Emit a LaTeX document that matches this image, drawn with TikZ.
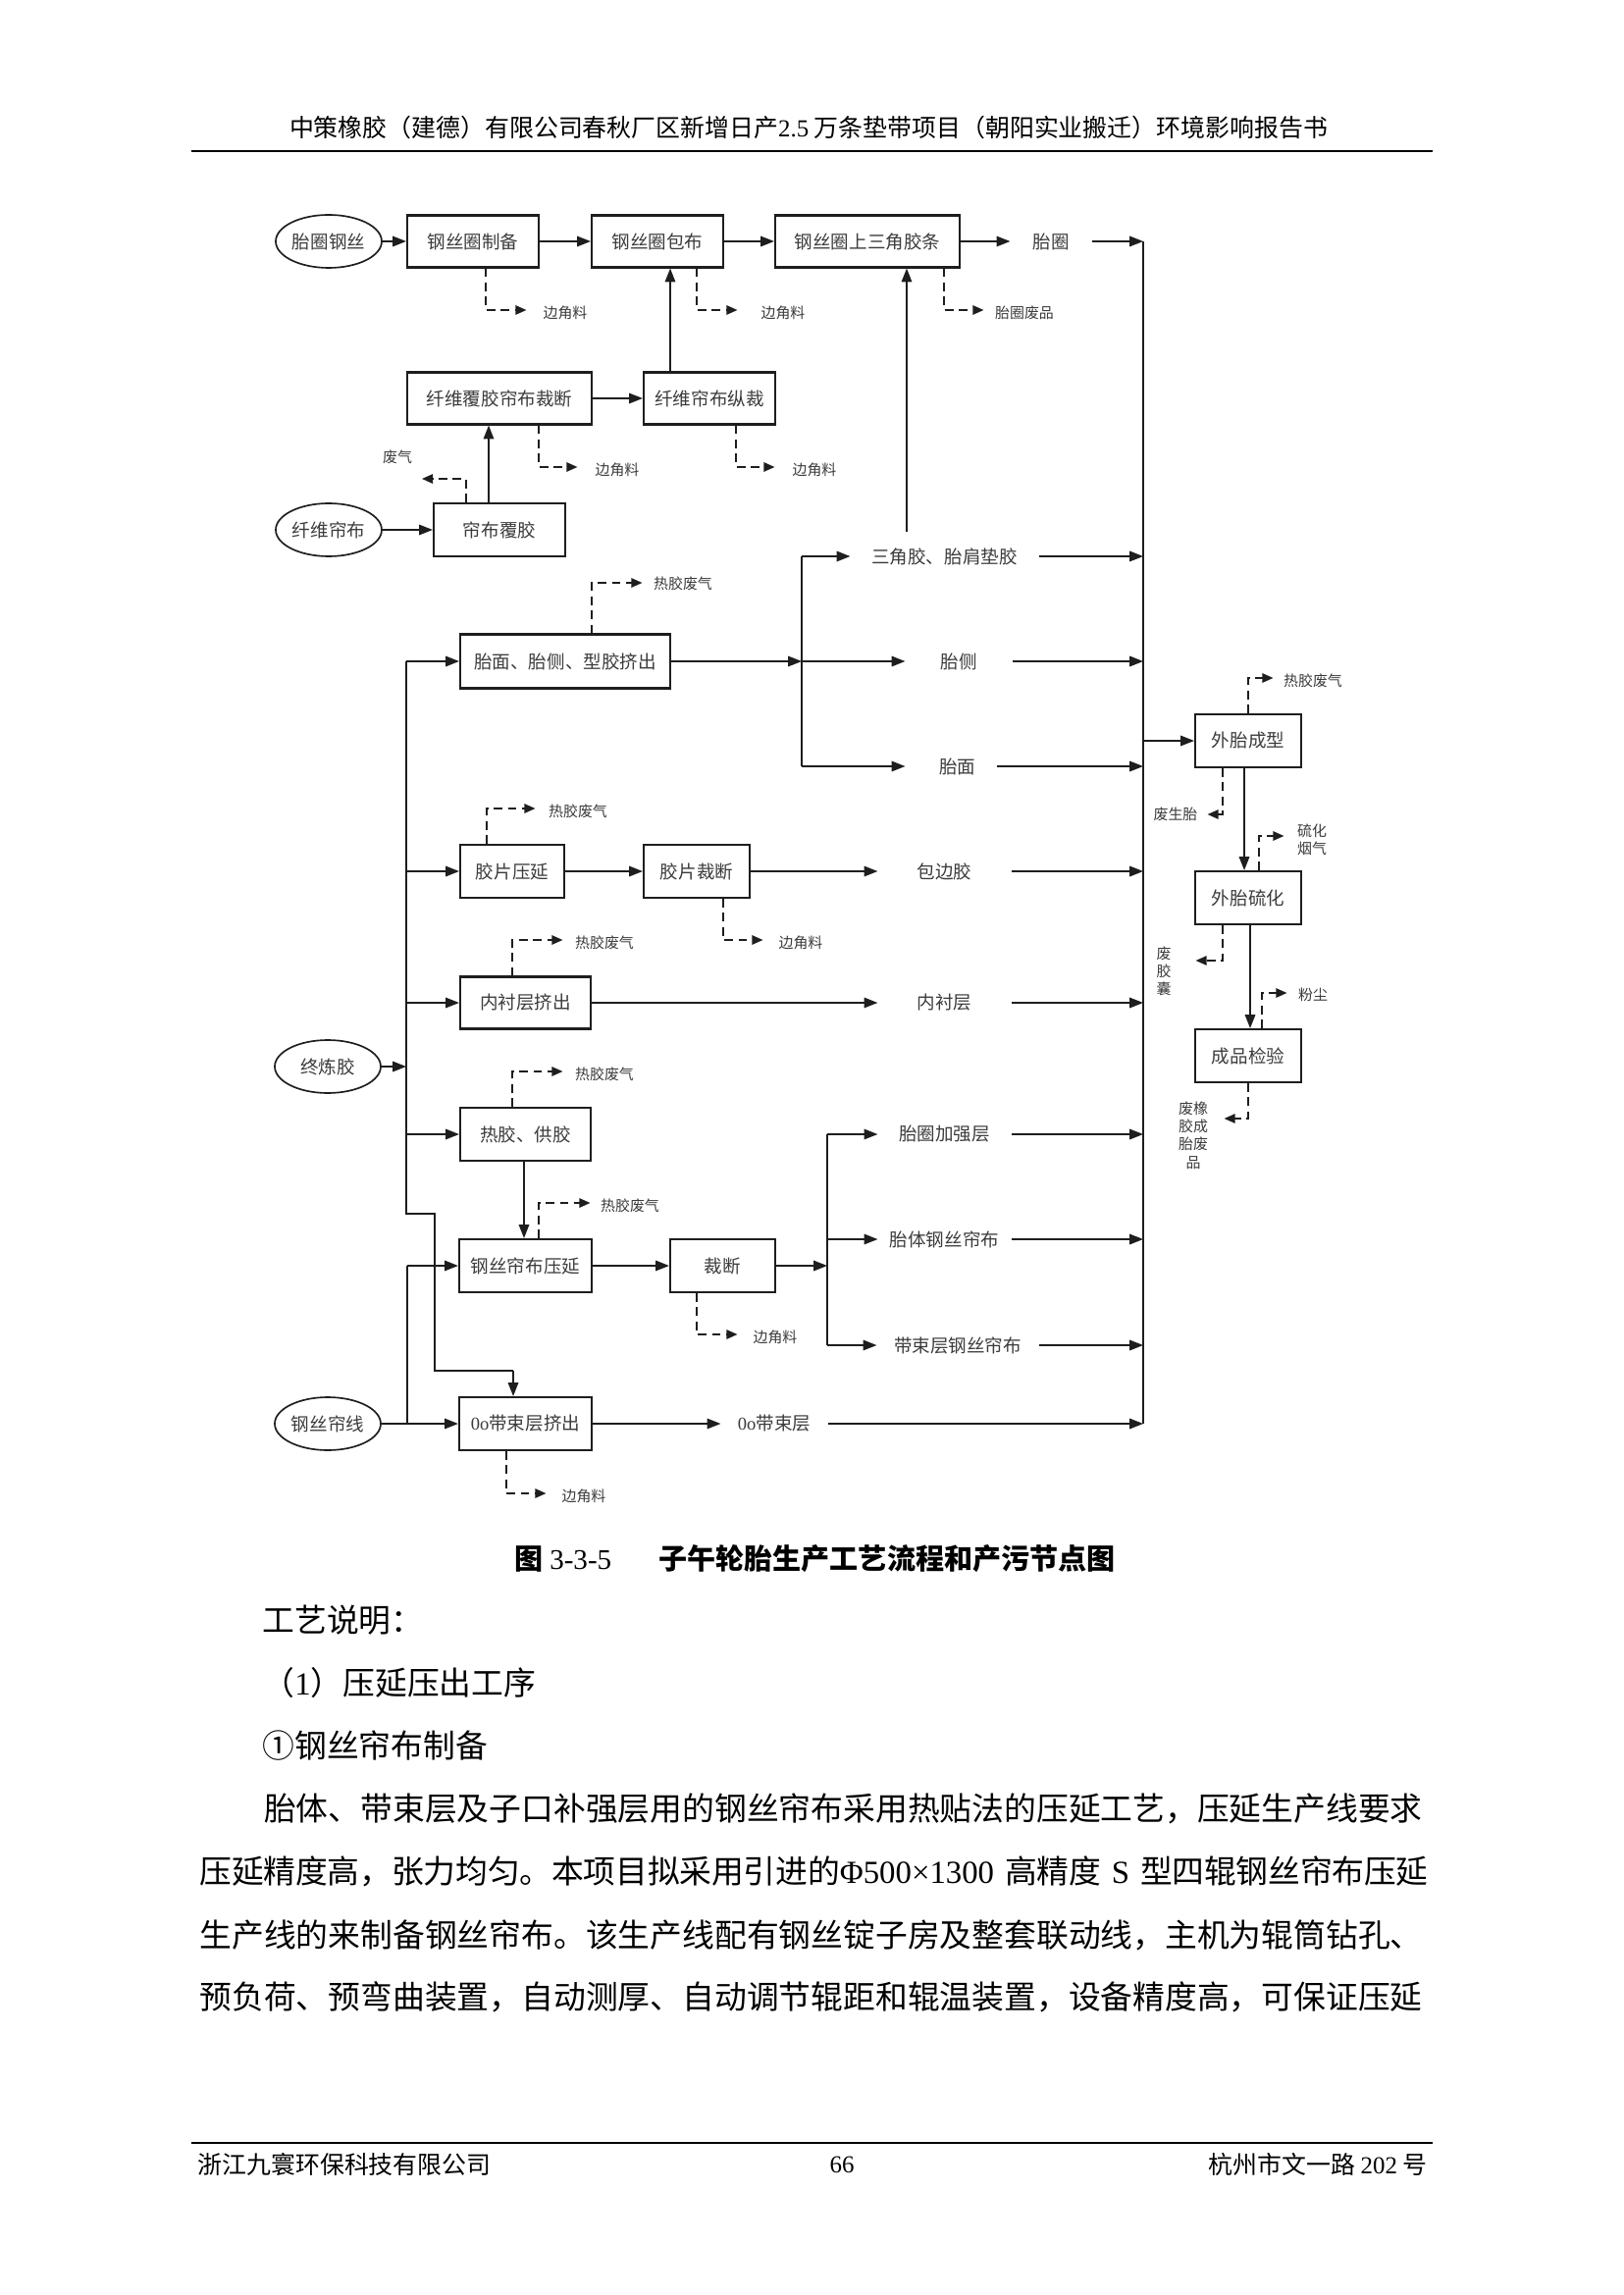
\documentclass[tikz,border=0pt]{standalone}
\usepackage{fontspec}
\setmainfont{Noto Sans CJK SC}
\newfontfamily\tnr{Liberation Serif}
\usetikzlibrary{arrows.meta,shapes.geometric}
\XeTeXlinebreaklocale "zh"
\XeTeXlinebreakskip=0pt plus 2pt minus 1pt
\definecolor{lncol}{HTML}{1E1E1E}
\definecolor{txtcol}{HTML}{3C3C3C}
\newcommand\fsBox{\fontsize{6.7pt}{8pt}\selectfont}
\newcommand\fsSm{\fontsize{5.4pt}{6.6pt}\selectfont}
\newcommand\fsBody{\fontsize{11.85pt}{14pt}\selectfont}
\newcommand\fsHead{\fontsize{9pt}{10pt}\selectfont}
\newcommand\fsCap{\fontsize{10.5pt}{12pt}\selectfont\bfseries}
\begin{document}
\begin{tikzpicture}[x=0.127mm,y=-0.127mm,
  every node/.style={inner sep=0pt,text=txtcol},
  bx/.style 2 args={draw=lncol,line width=0.75pt,minimum width=#1*0.127mm,minimum height=#2*0.127mm,font=\fsBox},
  el/.style={ellipse,draw=lncol,line width=0.6pt,minimum width=108*0.127mm,minimum height=54*0.127mm,font=\fsBox},
  lbl/.style={font=\fsBox,minimum width=#1*0.127mm},
  sml/.style={font=\fsSm,minimum width=#1*0.127mm,align=center},
  plain/.style={draw=lncol,line width=0.55pt},
  arr/.style={draw=lncol,line width=0.55pt,-{Triangle[length=5pt,width=3.8pt]}},
  darr/.style={draw=lncol,line width=0.55pt,dash pattern=on 3.2pt off 2pt,-{Triangle[length=4pt,width=3.4pt]}},
  body/.style={anchor=west,font=\fsBody,text=black},
  foot/.style={font=\fsHead,text=black}
]
\fill[white] (0,0) rectangle (1654,2339);
\useasboundingbox (0,0) rectangle (1654,2339);

% ---------- header ----------
\node[foot] (hdr) at (824,130) {中策橡胶（建德）有限公司春秋厂区新增日产{\tnr 2.5} 万条垫带项目（朝阳实业搬迁）环境影响报告书};
\draw[line width=1pt,black] (195,154) -- (1460,154);

% ---------- bus coordinates ----------
\coordinate (bA) at (1165,246);
\coordinate (bB) at (1165,567);
\coordinate (bC) at (1165,674);
\coordinate (bD) at (1165,781);
\coordinate (bE) at (1165,888);
\coordinate (bF) at (1165,1022);
\coordinate (bG) at (1165,1156);
\coordinate (bH) at (1165,1263);
\coordinate (bI) at (1165,1371);
\coordinate (bJ) at (1165,1451);
\coordinate (bK) at (1165,755);

% ---------- top block ----------
\node[el] (E1) at (335,246) {胎圈钢丝};
\node[bx={134}{53}] (B1) at (482,246) {钢丝圈制备};
\node[bx={134}{53}] (B2) at (670,246) {钢丝圈包布};
\node[bx={188}{53}] (B3) at (884,246) {钢丝圈上三角胶条};
\node[lbl=82] (T1) at (1071,246) {胎圈};
\draw[arr] (E1) -- (B1);
\draw[arr] (B1) -- (B2);
\draw[arr] (B2) -- (B3);
\draw[arr] (B3) -- (T1);
\draw[arr] (T1) -- (bA);

\node[bx={188}{53}] (B4) at (509,406) {纤维覆胶帘布裁断};
\node[bx={134}{53}] (B5) at (723,406) {纤维帘布纵裁};
\node[bx={134}{54}] (B6) at (509,540) {帘布覆胶};
\node[el] (E2) at (335,540) {纤维帘布};
\draw[arr] (B4) -- (B5);
\coordinate (a1) at (683,330);
\draw[arr] (B5.north -| a1) -- (B2.south -| a1);
\draw[arr] (E2) -- (B6);
\coordinate (a2) at (498,480);
\draw[arr] (B6.north -| a2) -- (B4.south -| a2);

% dashed outputs, top block
\node[sml=78] (L1) at (576,319) {边角料};
\coordinate (d1) at (495,316);
\draw[darr] (B1.south -| d1) -- (d1) -- (d1 -| L1.west);
\node[sml=92] (L2) at (798,319) {边角料};
\coordinate (d2) at (710,316);
\draw[darr] (B2.south -| d2) -- (d2) -- (d2 -| L2.west);
\node[sml=82] (L3) at (1044,319) {胎圈废品};
\coordinate (d3) at (962,316);
\draw[darr] (B3.south -| d3) -- (d3) -- (d3 -| L3.west);
\node[sml=80] (L4) at (629,479) {边角料};
\coordinate (d4) at (549,476);
\draw[darr] (B4.south -| d4) -- (d4) -- (d4 -| L4.west);
\node[sml=80] (L5) at (830,479) {边角料};
\coordinate (d5) at (750,476);
\draw[darr] (B5.south -| d5) -- (d5) -- (d5 -| L5.west);
\node[sml=40] (L6) at (405,466) {废气};
\coordinate (d6) at (475,488);
\coordinate (e6) at (430,488);
\draw[darr] (B6.north -| d6) -- (d6) -- (e6);

% ---------- middle block ----------
\node[el] (E3) at (334,1087) {终炼胶};
\coordinate (tk1) at (414,674);
\coordinate (tk2) at (414,1237);
\coordinate (tk3) at (443,1237);
\coordinate (tk4) at (443,1397);
\coordinate (tk5) at (523,1397);
\coordinate (tb3) at (414,1087);
\coordinate (tb8) at (414,888);
\coordinate (tb10) at (414,1022);
\coordinate (tb11) at (414,1156);
\draw[plain] (tk1) -- (tk2) -- (tk3) -- (tk4) -- (tk5);
\draw[arr] (E3) -- (tb3);

\node[bx={214}{55}] (B7) at (576,674) {胎面、胎侧、型胶挤出};
\draw[arr] (tk1) -- (B7.west |- tk1);
\coordinate (s1) at (817,674);
\coordinate (s1a) at (817,567);
\coordinate (s1c) at (817,781);
\draw[arr] (B7) -- (s1);
\draw[plain] (s1a) -- (s1c);
\node[lbl=191] (Ta) at (962.5,567) {三角胶、胎肩垫胶};
\node[lbl=108] (Tb) at (977,674) {胎侧};
\node[lbl=92] (Tc) at (969,781) {\hspace*{1.7mm}胎面};
\draw[arr] (s1a) -- (Ta);
\draw[arr] (s1) -- (Tb);
\draw[arr] (s1c) -- (Tc);
\draw[arr] (Ta) -- (bB);
\draw[arr] (Tb) -- (bC);
\draw[arr] (Tc) -- (bD);
\coordinate (up1) at (924,542);
\draw[arr] (up1) -- (B3.south -| up1);
\node[sml=82] (L7) at (696,595) {热胶废气};
\coordinate (d7) at (603,594);
\draw[darr] (B7.north -| d7) -- (d7) -- (d7 -| L7.west);

\node[bx={106}{54}] (B8) at (522,888) {胶片压延};
\node[bx={108}{54}] (B9) at (710,888) {胶片裁断};
\node[lbl=135] (Td) at (962.5,888) {包边胶};
\draw[arr] (tb8) -- (B8);
\draw[arr] (B8) -- (B9);
\draw[arr] (B9) -- (Td);
\draw[arr] (Td) -- (bE);
\node[sml=86] (L8) at (589,827) {热胶废气};
\coordinate (d8) at (496,824);
\draw[darr] (B8.north -| d8) -- (d8) -- (d8 -| L8.west);
\node[sml=76] (L9) at (816,961) {边角料};
\coordinate (d9) at (737,958);
\draw[darr] (B9.south -| d9) -- (d9) -- (d9 -| L9.west);

\node[bx={133}{53}] (B10) at (535.5,1022) {内衬层挤出};
\node[lbl=135] (Te) at (962.5,1022) {内衬层};
\draw[arr] (tb10) -- (B10);
\draw[arr] (B10) -- (Te);
\draw[arr] (Te) -- (bF);
\node[sml=84] (L10) at (616,961) {热胶废气};
\coordinate (d10) at (522,958);
\draw[darr] (B10.north -| d10) -- (d10) -- (d10 -| L10.west);

\node[bx={133}{54}] (B11) at (535.5,1156) {热胶、供胶};
\draw[arr] (tb11) -- (B11);
\node[sml=84] (L11) at (616,1095) {热胶废气};
\coordinate (d11) at (522,1092);
\draw[darr] (B11.north -| d11) -- (d11) -- (d11 -| L11.west);

\node[bx={135}{54}] (B12) at (535.5,1290) {钢丝帘布压延};
\node[bx={107}{54}] (B13) at (736.5,1290) {裁断};
\coordinate (v2) at (534,1220);
\draw[arr] (B11.south -| v2) -- (B12.north -| v2);
\draw[arr] (B12) -- (B13);
\node[sml=80] (L12) at (642,1229) {热胶废气};
\coordinate (d12) at (549,1226);
\draw[darr] (B12.north -| d12) -- (d12) -- (d12 -| L12.west);
\node[sml=76] (L13) at (790,1363) {边角料};
\coordinate (d13) at (710,1360);
\draw[darr] (B13.south -| d13) -- (d13) -- (d13 -| L13.west);

\coordinate (s2) at (843,1290);
\coordinate (s2a) at (843,1156);
\coordinate (s2b) at (843,1263);
\coordinate (s2c) at (843,1371);
\draw[arr] (B13) -- (s2);
\draw[plain] (s2a) -- (s2c);
\node[lbl=135] (Tf) at (962.5,1156) {胎圈加强层};
\node[lbl=135] (Tg) at (962.5,1263) {胎体钢丝帘布};
\node[lbl=164] (Th) at (976,1371) {带束层钢丝帘布};
\draw[arr] (s2a) -- (Tf);
\draw[arr] (s2b) -- (Tg);
\draw[arr] (s2c) -- (Th);
\draw[arr] (Tf) -- (bG);
\draw[arr] (Tg) -- (bH);
\draw[arr] (Th) -- (bI);

% ---------- bottom row ----------
\node[el] (E4) at (334,1451) {钢丝帘线};
\node[bx={135}{54}] (B14) at (535.5,1451) {{\tnr 0o}带束层挤出};
\node[lbl=108] (Ti) at (789,1451) {{\tnr 0o}带束层};
\coordinate (j1) at (415,1451);
\coordinate (j2) at (415,1290);
\draw[arr] (E4) -- (B14);
\draw[plain] (j1) -- (j2);
\draw[arr] (j2) -- (B12.west |- j2);
\draw[arr] (tk5) -- (B14.north -| tk5);
\draw[arr] (B14) -- (Ti);
\draw[arr] (Ti) -- (bJ);
\node[sml=76] (L14) at (595,1525) {边角料};
\coordinate (d14) at (516,1522);
\draw[darr] (B14.south -| d14) -- (d14) -- (d14 -| L14.west);

% ---------- bus ----------
\draw[plain] (bA) -- (bJ);

% ---------- right column ----------
\node[bx={108}{54}] (C1) at (1272,755) {外胎成型};
\node[bx={108}{54}] (C2) at (1272,915) {外胎硫化};
\node[bx={108}{54}] (C3) at (1272,1076) {成品检验};
\draw[arr] (bK) -- (C1);
\coordinate (v3) at (1268,830);
\draw[arr] (C1.south -| v3) -- (C2.north -| v3);
\coordinate (v4) at (1274,1000);
\draw[arr] (C2.south -| v4) -- (C3.north -| v4);

\node[sml=80] (L15) at (1338,694) {热胶废气};
\coordinate (d15) at (1272,691);
\draw[darr] (C1.north -| d15) -- (d15) -- (d15 -| L15.west);
\node[sml=64] (L16) at (1198,830) {废生胎};
\coordinate (d16) at (1246,830);
\draw[darr] (C1.south -| d16) -- (d16) -- (d16 -| L16.east);
\node[sml=56] (L17) at (1337,856) {硫化\\烟气};
\coordinate (d17) at (1283,852);
\draw[darr] (C2.north -| d17) -- (d17) -- (d17 -| L17.west);
\node[sml=64] (L18) at (1186,990) {废\\胶\\囊};
\coordinate (d18) at (1246,979);
\draw[darr] (C2.south -| d18) -- (d18) -- (d18 -| L18.east);
\node[sml=52] (L19) at (1338,1014) {粉尘};
\coordinate (d19) at (1286,1012);
\draw[darr] (C3.north -| d19) -- (d19) -- (d19 -| L19.west);
\node[sml=62] (L20) at (1216,1157) {废橡\\胶成\\胎废\\品};
\coordinate (d20) at (1272,1140);
\draw[darr] (C3.south -| d20) -- (d20) -- (d20 -| L20.east);

% ---------- caption ----------
\node[anchor=west,font=\fsCap,text=black] (cap1) at (524,1589) {图 {\tnr\mdseries 3-3-5}};
\node[anchor=west,font=\fsCap,text=black] (cap2) at (671,1589) {子午轮胎生产工艺流程和产污节点图};

% ---------- body text ----------
\node[body] (t1) at (267,1651) {工艺说明：};
\node[body] (t2) at (267,1715) {（{\tnr 1}）压延压出工序};
\node[body] (t3) at (267,1779) {①钢丝帘布制备};
\node[body,text width=1252*0.127mm] (t4) at (203,1843) {\parfillskip=0pt\hspace*{2em}胎体、带束层及子口补强层用的钢丝帘布采用热贴法的压延工艺，压延生产线要求};
\node[body,text width=1252*0.127mm] (t5) at (203,1907) {\parfillskip=0pt 压延精度高，张力均匀。本项目拟采用引进的{\tnr Φ500×1300} 高精度 {\tnr S} 型四辊钢丝帘布压延};
\node[body,text width=1252*0.127mm] (t6) at (203,1972) {\parfillskip=0pt 生产线的来制备钢丝帘布。该生产线配有钢丝锭子房及整套联动线，主机为辊筒钻孔、};
\node[body,text width=1252*0.127mm] (t7) at (203,2035) {\parfillskip=0pt 预负荷、预弯曲装置，自动测厚、自动调节辊距和辊温装置，设备精度高，可保证压延};

% ---------- footer ----------
\draw[line width=1pt,black] (195,2184) -- (1460,2184);
\node[foot,anchor=west] (f1) at (201,2206) {浙江九寰环保科技有限公司};
\node[foot] (f2) at (858,2206) {\tnr 66};
\node[foot,anchor=east] (f3) at (1455,2206) {杭州市文一路 {\tnr 202} 号};
\end{tikzpicture}
\end{document}
